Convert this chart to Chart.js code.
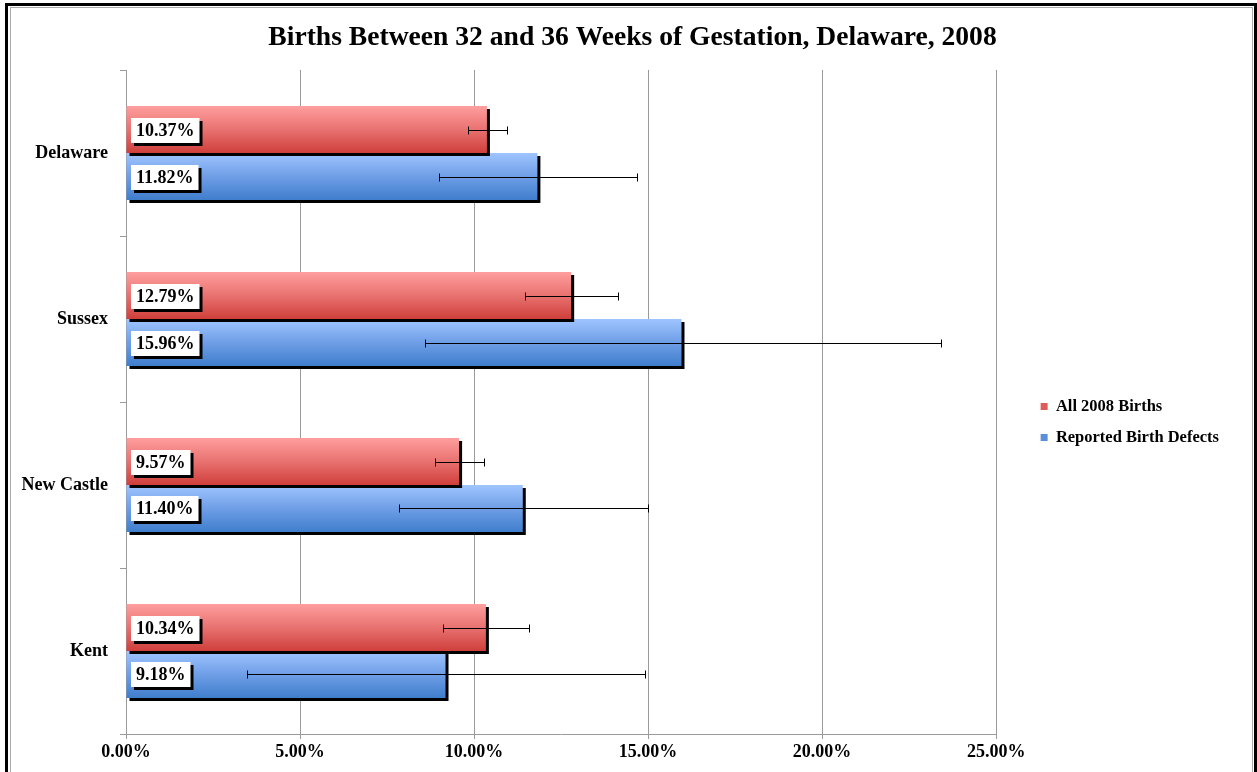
<!DOCTYPE html>
<html>
<head>
<meta charset="utf-8">
<script src="https://cdn.jsdelivr.net/npm/chart.js@4.4.1/dist/chart.umd.min.js"></script>
<style>
  html, body { margin: 0; padding: 0; background: #fff; }
  #wrap { width: 1257px; height: 772px; }
</style>
</head>
<body>
<div id="wrap"><canvas id="myChart" width="1257" height="772"></canvas></div>
<script>
// Counties along the y-axis, top to bottom
var counties = ["Delaware", "Sussex", "New Castle", "Kent"];
// Percent of births between 32 and 36 weeks
var allBirths = [10.37, 12.79, 9.57, 10.34];
var defects = [11.82, 15.96, 11.40, 9.18];
// Confidence intervals (low, high)
var allLow = [9.84, 11.47, 8.88, 9.12];
var allHigh = [10.96, 14.14, 10.28, 11.58];
var defLow = [9.00, 8.58, 7.85, 3.48];
var defHigh = [14.69, 23.42, 14.99, 14.91];
// x-axis ticks
var xTicks = [0, 5, 10, 15, 20, 25];

var catPct = 0.566;
var serif = "'Liberation Serif', 'Times New Roman', serif";

function barFill(stops) //vertical gradient across each single bar
{
    return function (c) {
        var chart = c.chart, y = chart.scales.y;
        if (!y || !chart.chartArea || c.dataIndex === undefined || !y.height) return stops[stops.length - 1];
        var center = y.getPixelForValue(c.dataIndex);
        var half = (y.height / counties.length) * catPct / 2;
        var y0 = c.datasetIndex === 0 ? center - half : center;
        var g = chart.ctx.createLinearGradient(0, y0, 0, y0 + half);
        for (var i = 0; i < stops.length; i++) g.addColorStop(i / (stops.length - 1), stops[i]);
        return g;
    };
}

var extras = {
    id: "extras",
    beforeDraw: function (chart) {
        var ctx = chart.ctx;
        ctx.save();
        ctx.fillStyle = "#fff";
        ctx.fillRect(0, 0, chart.width, chart.height);
        // page frame
        ctx.strokeStyle = "#000";
        ctx.lineWidth = 3;
        ctx.strokeRect(6.5, 4.5, 1249, 800);
        ctx.strokeStyle = "#aaa";
        ctx.lineWidth = 1;
        ctx.strokeRect(10.5, 7.5, 1242, 800);
        ctx.restore();
    },
    afterLayout: function (chart) {
        var lg = chart.legend, tb = chart.titleBlock;
        if (lg) { lg.left += 30; lg.right += 30; lg.top += 36; lg.bottom += 36; }
        if (tb) { tb.left += 33; tb.right += 33; }
    },
    beforeDatasetsDraw: function (chart) {
        var ctx = chart.ctx;
        ctx.save();
        ctx.shadowColor = "#000";
        ctx.shadowOffsetX = 3;
        ctx.shadowOffsetY = 3;
        ctx.shadowBlur = 0;
    },
    afterDatasetsDraw: function (chart) {
        var ctx = chart.ctx;
        ctx.restore();
        var x = chart.scales.x;
        var lows = [allLow, defLow], highs = [allHigh, defHigh];
        // error bars
        ctx.save();
        ctx.strokeStyle = "#000";
        ctx.lineWidth = 1;
        for (var d = 0; d < 2; d++) {
            var meta = chart.getDatasetMeta(d);
            meta.data.forEach(function (el, i) {
                var yy = Math.round(el.y) + 0.5;
                var x1 = Math.round(x.getPixelForValue(lows[d][i])) + 0.5;
                var x2 = Math.round(x.getPixelForValue(highs[d][i])) + 0.5;
                ctx.beginPath();
                ctx.moveTo(x1, yy); ctx.lineTo(x2, yy);
                ctx.moveTo(x1, yy - 4); ctx.lineTo(x1, yy + 4);
                ctx.moveTo(x2, yy - 4); ctx.lineTo(x2, yy + 4);
                ctx.stroke();
            });
        }
        // value labels
        ctx.font = "bold 18px " + serif;
        ctx.textBaseline = "middle";
        for (var d2 = 0; d2 < 2; d2++) {
            var ds = chart.data.datasets[d2];
            chart.getDatasetMeta(d2).data.forEach(function (el, i) {
                var txt = ds.data[i].toFixed(2) + "%";
                var w = ctx.measureText(txt).width + 10;
                var bx = chart.chartArea.left + 5, by = Math.round(el.y) - 12;
                ctx.fillStyle = "#000";
                ctx.fillRect(bx + 3, by + 3, w, 25);
                ctx.fillStyle = "#fff";
                ctx.fillRect(bx, by, w, 25);
                ctx.fillStyle = "#000";
                ctx.fillText(txt, bx + 5, by + 13);
            });
        }
        ctx.restore();
    }
};

var ctx = document.getElementById("myChart");
var myChart = new Chart(ctx,
{
    type: "bar",
    data:
    {
        labels: counties,
        datasets:
        [
            {
                label: "All 2008 Births",
                data: allBirths,
                backgroundColor: barFill(["#ff9e9e", "#e87270", "#cf3f3b"]),
                categoryPercentage: catPct,
                barPercentage: 1
            },
            {
                label: "Reported Birth Defects",
                data: defects,
                backgroundColor: barFill(["#9fc5ff", "#6f9ee6", "#3f7ecc"]),
                categoryPercentage: catPct,
                barPercentage: 1
            }
        ]
    },
    options:
    {
        indexAxis: "y",
        responsive: false,
        animation: false,
        layout: { padding: { left: 0, right: 58, top: 0, bottom: 0 } },
        plugins:
        {
            title: {
                display: true,
                text: "Births Between 32 and 36 Weeks of Gestation, Delaware, 2008",
                color: "#000",
                font: { family: serif, size: 27.6, weight: "bold" },
                padding: { top: 21.5, bottom: 15.4 }
            },
            legend: {
                position: "right",
                labels: {
                    color: "#000",
                    font: { family: serif, size: 16.5, weight: "bold" },
                    boxWidth: 7,
                    boxHeight: 7,
                    padding: 14.5,
                    generateLabels: function (chart) {
                        var cols = ["#e05a57", "#5b8fdc"];
                        return chart.data.datasets.map(function (ds, i) {
                            return { text: ds.label, fillStyle: cols[i], strokeStyle: cols[i], lineWidth: 0, datasetIndex: i, fontColor: "#000" };
                        });
                    }
                }
            },
            tooltip: { enabled: false }
        },
        scales:
        {
            x: {
                min: 0,
                max: 25,
                afterBuildTicks: function (s) { s.ticks = xTicks.map(function (v) { return { value: v }; }); },
                afterFit: function (s) { s.height = 38; },
                ticks: {
                    color: "#000",
                    font: { family: serif, size: 18, weight: "bold" },
                    padding: 3,
                    maxRotation: 0,
                    callback: function (v) { return Number(v).toFixed(2) + "%"; }
                },
                grid: { color: "#9a9a9a", lineWidth: 1, tickLength: 5 },
                border: { color: "#9a9a9a" }
            },
            y: {
                afterFit: function (s) { s.width = 126; },
                ticks: {
                    color: "#000",
                    font: { family: serif, size: 18, weight: "bold" },
                    padding: 12
                },
                grid: { drawOnChartArea: false, offset: true, color: "#9a9a9a", tickLength: 6 },
                border: { color: "#9a9a9a" }
            }
        }
    },
    plugins: [extras]
});
</script>
</body>
</html>
